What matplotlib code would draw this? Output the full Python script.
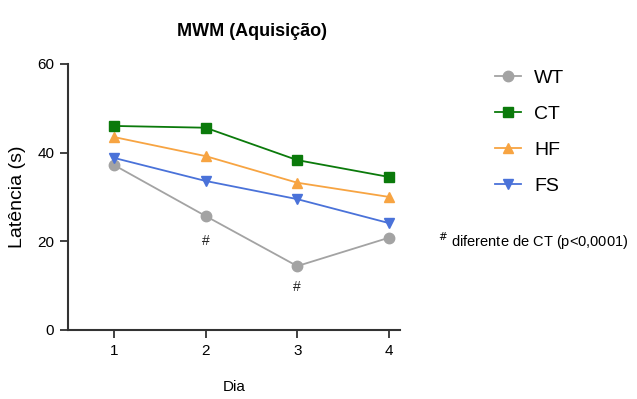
import numpy as np
import matplotlib
matplotlib.use("Agg")
import matplotlib.pyplot as plt

plt.rcParams['font.family'] = ['Liberation Sans', 'DejaVu Sans']

# dados
dias = [1, 2, 3, 4]
wt = [37.2, 25.7, 14.4, 20.8]
ct = [46.0, 45.6, 38.3, 34.5]
hf = [43.5, 39.2, 33.2, 30.0]
fs = [38.8, 33.6, 29.5, 24.1]
grupos = ["WT", "CT", "HF", "FS"]
sig_dias = [2, 3]  # diferente de CT

cores = {"WT": "#a3a3a3", "CT": "#0b7a0b", "HF": "#f7a442", "FS": "#4a72d9"}
marcadores = {"WT": "o", "CT": "s", "HF": "^", "FS": "v"}
series = {"WT": wt, "CT": ct, "HF": hf, "FS": fs}

fig = plt.figure(figsize=(6.37, 3.99), dpi=100)
ax = fig.add_axes([0.1068, 0.173, 0.521, 0.667])

# desenha na ordem para CT ficar por cima
for g in ["WT", "FS", "HF", "CT"]:
    ax.plot(dias, series[g], color=cores[g], marker=marcadores[g],
            markersize=7.5, linewidth=1.3, label=g)

# marcas de significancia
offsets = {2: -18, 3: -15}
for d in sig_dias:
    ax.annotate("#", (d, wt[d - 1]), xytext=(0, offsets[d]),
                textcoords="offset points", ha="center", va="center",
                fontsize=10, color="#222222")

ax.set_xlim(0.5, 4.12)
ax.set_ylim(0, 60)
ax.set_xticks(dias)
ax.set_yticks([0, 20, 40, 60])
for s in ["top", "right"]:
    ax.spines[s].set_visible(False)
for s in ["left", "bottom"]:
    ax.spines[s].set_linewidth(1.5)
    ax.spines[s].set_color("#333333")
ax.tick_params(direction="out", length=6, width=1.3, color="#333333",
               labelsize=11, pad=4)
ax.set_xlabel("Dia", fontsize=11, labelpad=16)
ax.set_ylabel("Latência (s)", fontsize=14, labelpad=8)

fig.text(0.396, 0.922, "MWM (Aquisição)", ha="center", va="center",
         fontsize=13, fontweight="bold")

handles, labels = ax.get_legend_handles_labels()
ordem = [labels.index(g) for g in grupos]
fig.legend([handles[i] for i in ordem], [labels[i] for i in ordem],
           loc="upper left", bbox_to_anchor=(0.75, 0.87), frameon=False,
           fontsize=14, handlelength=1.3, labelspacing=0.95, handletextpad=0.7)

fig.text(0.687, 0.395, "$^{\\#}$ diferente de CT (p<0,0001)", fontsize=10.5,
         ha="left", va="center")

fig.savefig("out.png", dpi=100)
